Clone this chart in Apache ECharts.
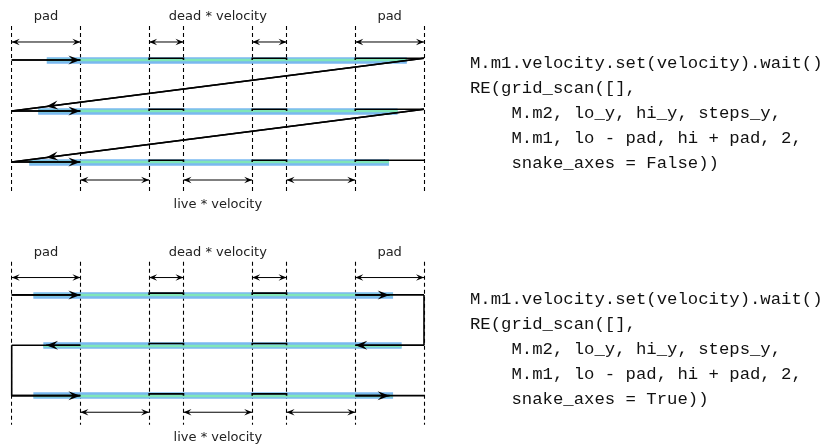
<!DOCTYPE html>
<html>
<head>
<meta charset="utf-8">
<script src="https://cdn.jsdelivr.net/npm/echarts@6/dist/echarts.min.js"></script>
<style>
html,body{margin:0;padding:0;background:#fff;}
#main{width:833px;height:446px;}
</style>
</head>
<body>
<div id="main"></div>
<script>
// ---- data ----
// boundaries along the fast axis (pad | live | dead | live | dead | live | pad)
const xBounds = [0, 2, 4, 5, 7, 8, 10, 12];
const rows = [0, 1, 2];
const deadZones = [[4, 5], [7, 8]];
const topDims = [[0, 2], [4, 5], [7, 8], [10, 12]];
const bottomDims = [[2, 4], [5, 7], [8, 10]];
// collected (blue) band extent per row
const bandsFlyTop = [[1.02, 11.5], [0.77, 11.23], [0.51, 10.98]];
const bandsSnake = [[0.63, 11.1], [0.92, 11.35], [0.63, 11.1]];
const topLabels = [['pad', 1], ['dead * velocity', 6], ['pad', 11]];
const bottomLabels = [['live * velocity', 6]];
const codeFalse = [
  'M.m1.velocity.set(velocity).wait()',
  'RE(grid_scan([],',
  '    M.m2, lo_y, hi_y, steps_y,',
  '    M.m1, lo - pad, hi + pad, 2,',
  '    snake_axes = False))'
];
const codeTrue = [
  'M.m1.velocity.set(velocity).wait()',
  'RE(grid_scan([],',
  '    M.m2, lo_y, hi_y, steps_y,',
  '    M.m1, lo - pad, hi + pad, 2,',
  '    snake_axes = True))'
];

// ---- drawing ----
const BUMP = 0.035;
function headPts(tip, ang, L, W) {
  const c = Math.cos(ang), s = Math.sin(ang);
  const loc = [[0, 0], [-L, -W / 2], [-0.62 * L, 0], [-L, W / 2]];
  return loc.map(([u, v]) => [tip[0] + u * c - v * s, tip[1] + u * s + v * c]);
}

function arrowSeries(g, items, opts) {
  return {
    type: 'custom', xAxisIndex: g, yAxisIndex: g, z: opts.z || 10, silent: true,
    data: items,
    renderItem: function (params, api) {
      const p1 = api.coord([api.value(0), api.value(1)]);
      const p2 = api.coord([api.value(2), api.value(3)]);
      const t = api.value(4);
      const ang = Math.atan2(p2[1] - p1[1], p2[0] - p1[0]);
      const children = [];
      if (opts.shaft) {
        children.push({type: 'line', shape: {x1: p1[0], y1: p1[1], x2: p2[0], y2: p2[1]},
          style: {stroke: '#000', lineWidth: opts.width}});
      }
      const tip = [p1[0] + (p2[0] - p1[0]) * t, p1[1] + (p2[1] - p1[1]) * t];
      children.push({type: 'polygon', shape: {points: headPts(tip, ang, opts.L, opts.W)},
        style: {fill: '#000'}});
      if (opts.both) {
        children.push({type: 'polygon', shape: {points: headPts(p1, ang + Math.PI, opts.L, opts.W)},
          style: {fill: '#000'}});
      }
      return {type: 'group', children: children};
    }
  };
}

function textSeries(g, items) {
  return {
    type: 'custom', xAxisIndex: g, yAxisIndex: g, z: 12, silent: true,
    data: items.map(d => ({value: [d[1], d[2]], name: d[0]})),
    renderItem: function (params, api) {
      const p = api.coord([api.value(0), api.value(1)]);
      return {type: 'text', x: p[0], y: p[1],
        style: {text: items[params.dataIndex][0], font: '13px "DejaVu Sans"', fill: '#222',
          align: 'center', verticalAlign: 'middle'}};
    }
  };
}

function buildPanel(g, snake, bands, dimTopY, dimBotY, vTop, vBot, labTopY, labBotY) {
  const ax = {xAxisIndex: g, yAxisIndex: g, coordinateSystem: 'cartesian2d', silent: true};
  const s = [];
  s.push(Object.assign({type: 'lines', z: 1,
    lineStyle: {color: '#000', width: 1.1, type: [4, 3], opacity: 1},
    data: xBounds.map(b => ({coords: [[b, vTop], [b, vBot]]}))}, ax));
  s.push(Object.assign({type: 'lines', z: 2,
    lineStyle: {color: '#7ab8f0', width: 6.5, opacity: 1, cap: 'butt'},
    data: bands.map((b, i) => ({coords: [[b[0], rows[i]], [b[1], rows[i]]]}))}, ax));
  s.push(Object.assign({type: 'lines', z: 3,
    lineStyle: {color: '#80e6b8', width: 2.4, opacity: 1, cap: 'butt'},
    data: bands.map((b, i) => ({coords: [[b[0], rows[i]], [b[1], rows[i]]]}))}, ax));
  const trace = [];
  const dirs = [];
  rows.forEach((r, i) => {
    trace.push([[0, r], [2, r]]);
    deadZones.forEach(([a, b]) => trace.push([[a, r], [a, r - BUMP], [b, r - BUMP], [b, r]]));
    if (!snake) {
      trace.push([[10, r], [10, r - BUMP], [12, r - BUMP]]);
      dirs.push([0, r, 2, r, 1]);
      if (i < rows.length - 1) {
        trace.push([[12, r - BUMP], [0, rows[i + 1]]]);
        dirs.push([12, r - BUMP, 0, rows[i + 1], 11 / 12]);
      }
    } else {
      trace.push([[10, r], [12, r]]);
      if (i % 2 === 0) {
        dirs.push([0, r, 2, r, 1]);
        dirs.push([10, r, 11, r, 1]);
      } else {
        dirs.push([12, r, 10, r, 1]);
        dirs.push([2, r, 1, r, 1]);
      }
      if (i < rows.length - 1) {
        const x = i % 2 === 0 ? 12 : 0;
        trace.push([[x, r], [x, rows[i + 1]]]);
      }
    }
  });
  s.push(Object.assign({type: 'lines', polyline: true, z: 5,
    lineStyle: {color: '#000', width: 1.6, opacity: 1},
    data: trace.map(c => ({coords: c}))}, ax));
  s.push(arrowSeries(g, dirs, {shaft: true, width: 1.6, L: 12, W: 9, z: 8}));
  const dims = topDims.map(d => [d[0], dimTopY, d[1], dimTopY, 1])
    .concat(bottomDims.map(d => [d[0], dimBotY, d[1], dimBotY, 1]));
  s.push(arrowSeries(g, dims, {shaft: true, width: 1, L: 8, W: 6.5, both: true, z: 9}));
  s.push(textSeries(g, topLabels.map(l => [l[0], l[1], labTopY]).concat(bottomLabels.map(l => [l[0], l[1], labBotY]))));
  return s;
}

const series = []
  .concat(buildPanel(0, false, bandsFlyTop, -0.353, 2.353, -0.667, 2.588, -0.843, 2.843))
  .concat(buildPanel(1, true, bandsSnake, -0.344, 2.33, -0.66, 2.58, -0.83, 2.83));

function codeGraphic(lines, y0) {
  return lines.map((t, i) => ({
    type: 'text', x: 470, y: y0 + i * 25, silent: true,
    style: {text: t, font: '17.3px "Liberation Mono"', fill: '#111', verticalAlign: 'middle'}
  }));
}

const chart = echarts.init(document.getElementById('main'), null, {renderer: 'canvas'});
chart.setOption({
  animation: false,
  backgroundColor: '#fff',
  grid: [
    {left: 11.7, width: 412.3, top: 9, height: 204},
    {left: 11.7, width: 412.3, top: 244.5, height: 206}
  ],
  xAxis: [
    {gridIndex: 0, type: 'value', min: 0, max: 12, show: false},
    {gridIndex: 1, type: 'value', min: 0, max: 12, show: false}
  ],
  yAxis: [
    {gridIndex: 0, type: 'value', min: -1, max: 3, inverse: true, show: false},
    {gridIndex: 1, type: 'value', min: -1, max: 3, inverse: true, show: false}
  ],
  graphic: codeGraphic(codeFalse, 63).concat(codeGraphic(codeTrue, 299)),
  series: series
});
</script>
</body>
</html>
